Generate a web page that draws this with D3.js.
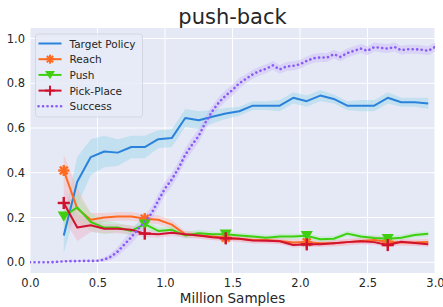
<!DOCTYPE html>
<html>
<head>
<meta charset="utf-8">
<script src="https://cdn.jsdelivr.net/npm/d3@7"></script>
<style>
  body { margin: 0; background: #fff; }
  text { font-family: "DejaVu Sans", sans-serif; fill: #262626; }
</style>
</head>
<body>
<div id="chart"></div>
<script>
// Sample positions (million samples)
const taskSteps = [0.25, 0.35, 0.45, 0.55, 0.65, 0.75, 0.85, 0.95, 1.05, 1.15, 1.25, 1.35, 1.45, 1.55,
    1.65, 1.75, 1.85, 1.95, 2.05, 2.15, 2.25, 2.35, 2.45, 2.55, 2.65, 2.75, 2.85, 2.95];

const targetMean = [0.12, 0.36, 0.47, 0.495, 0.49, 0.515, 0.515, 0.55, 0.555, 0.645, 0.635, 0.65, 0.665, 0.675,
    0.70, 0.70, 0.70, 0.735, 0.72, 0.745, 0.73, 0.70, 0.70, 0.70, 0.735, 0.715, 0.715, 0.71];
const targetStd = [0.08, 0.11, 0.08, 0.07, 0.06, 0.05, 0.05, 0.04, 0.04, 0.04, 0.04, 0.03, 0.025, 0.02,
    0.02, 0.02, 0.025, 0.025, 0.025, 0.025, 0.02, 0.02, 0.025, 0.025, 0.025, 0.02, 0.02, 0.025];

const reachMean = [0.41, 0.24, 0.19, 0.20, 0.205, 0.205, 0.195, 0.19, 0.168, 0.125, 0.12, 0.115, 0.11, 0.105,
    0.10, 0.10, 0.095, 0.088, 0.09, 0.085, 0.085, 0.09, 0.095, 0.10, 0.092, 0.088, 0.088, 0.09];
const reachStd = [0.07, 0.09, 0.03, 0.02, 0.02, 0.02, 0.02, 0.02, 0.02, 0.015, 0.015, 0.015, 0.015, 0.015,
    0.015, 0.015, 0.015, 0.015, 0.015, 0.015, 0.015, 0.015, 0.015, 0.02, 0.015, 0.015, 0.015, 0.015];

const pushMean = [0.205, 0.245, 0.18, 0.155, 0.155, 0.14, 0.17, 0.14, 0.145, 0.12, 0.13, 0.125, 0.125, 0.12,
    0.115, 0.11, 0.115, 0.115, 0.118, 0.103, 0.105, 0.128, 0.115, 0.108, 0.105, 0.11, 0.122, 0.127];
const pushStd = [0.05, 0.06, 0.04, 0.03, 0.02, 0.02, 0.02, 0.015, 0.015, 0.015, 0.015, 0.012, 0.012, 0.012,
    0.012, 0.012, 0.012, 0.012, 0.012, 0.012, 0.012, 0.012, 0.012, 0.012, 0.012, 0.012, 0.012, 0.012];

const pickMean = [0.265, 0.155, 0.165, 0.15, 0.15, 0.145, 0.128, 0.125, 0.132, 0.125, 0.12, 0.112, 0.107, 0.105,
    0.097, 0.096, 0.094, 0.077, 0.08, 0.08, 0.085, 0.09, 0.094, 0.09, 0.077, 0.092, 0.086, 0.08];
const pickStd = [0.07, 0.06, 0.03, 0.02, 0.02, 0.02, 0.015, 0.015, 0.015, 0.015, 0.012, 0.012, 0.012, 0.012,
    0.012, 0.012, 0.012, 0.012, 0.012, 0.012, 0.012, 0.012, 0.012, 0.012, 0.012, 0.012, 0.012, 0.012];

const successSteps = [0.00, 0.05, 0.10, 0.15, 0.20, 0.25, 0.30, 0.35, 0.40, 0.45, 0.50, 0.55, 0.60, 0.65,
    0.70, 0.75, 0.80, 0.85, 0.90, 0.95, 1.00, 1.05, 1.10, 1.15, 1.20, 1.25, 1.30, 1.35, 1.40, 1.45,
    1.50, 1.55, 1.60, 1.65, 1.70, 1.75, 1.80, 1.85, 1.90, 1.95, 2.00, 2.05, 2.10, 2.15, 2.20, 2.25,
    2.30, 2.35, 2.40, 2.45, 2.50, 2.55, 2.60, 2.65, 2.70, 2.75, 2.80, 2.85, 2.90, 2.95, 3.00];
const successMean = [0.000, 0.000, 0.000, 0.000, 0.002, 0.004, 0.005, 0.005, 0.006, 0.006, 0.007, 0.012, 0.025, 0.048,
    0.080, 0.112, 0.148, 0.180, 0.218, 0.275, 0.330, 0.370, 0.420, 0.480, 0.525, 0.565, 0.625, 0.675, 0.715, 0.745,
    0.770, 0.800, 0.820, 0.840, 0.855, 0.865, 0.880, 0.862, 0.875, 0.878, 0.885, 0.900, 0.912, 0.915, 0.915, 0.930,
    0.918, 0.935, 0.945, 0.955, 0.945, 0.962, 0.958, 0.955, 0.962, 0.948, 0.952, 0.952, 0.950, 0.945, 0.962];
const successStd = [0, 0, 0, 0, 0.002, 0.003, 0.003, 0.003, 0.003, 0.003, 0.004, 0.01, 0.015, 0.02,
    0.025, 0.03, 0.03, 0.03, 0.03, 0.03, 0.03, 0.03, 0.03, 0.03, 0.03, 0.03, 0.03, 0.025, 0.025, 0.025,
    0.025, 0.025, 0.02, 0.02, 0.02, 0.02, 0.02, 0.02, 0.02, 0.02, 0.02, 0.02, 0.02, 0.02, 0.02, 0.02,
    0.02, 0.02, 0.02, 0.02, 0.02, 0.02, 0.02, 0.02, 0.02, 0.02, 0.02, 0.02, 0.02, 0.02, 0.02];

const xTicks = [0, 0.5, 1.0, 1.5, 2.0, 2.5, 3.0];
const yTicks = [0, 0.2, 0.4, 0.6, 0.8, 1.0];

const series = [
    { name: 'Target Policy', x: taskSteps, mean: targetMean, std: targetStd, color: '#2a82db', band: '#9ad4ea', marker: null },
    { name: 'Reach', x: taskSteps, mean: reachMean, std: reachStd, color: '#ff6a22', band: '#f7b6b6', marker: 'asterisk' },
    { name: 'Push', x: taskSteps, mean: pushMean, std: pushStd, color: '#3fcf10', band: '#a8e8b0', marker: 'triangle' },
    { name: 'Pick-Place', x: taskSteps, mean: pickMean, std: pickStd, color: '#d0122e', band: '#f0b0c8', marker: 'plus' },
    { name: 'Success', x: successSteps, mean: successMean, std: successStd, color: '#8a5cf6', band: '#c8b8f8', marker: null, dotted: true }
];

const width = 443, height = 307;
const margin = { left: 30, right: 8, top: 28, bottom: 34 };

const svg = d3.select('#chart').append('svg')
    .attr('width', width)
    .attr('height', height);

const x = d3.scaleLinear().domain([0, 3]).range([margin.left, width - margin.right]);
const y = d3.scaleLinear().domain([-0.048, 1.047]).range([height - margin.bottom, margin.top]);

// Plot background
svg.append('rect')
    .attr('x', x(0)).attr('y', y(1.047))
    .attr('width', x(3) - x(0)).attr('height', y(-0.048) - y(1.047))
    .attr('fill', '#e5e9f6');

// Grid
svg.append('g').selectAll('line').data(xTicks).enter().append('line')
    .attr('x1', d => x(d)).attr('x2', d => x(d))
    .attr('y1', y(1.047)).attr('y2', y(-0.048))
    .attr('stroke', '#fff').attr('stroke-width', 1);
svg.append('g').selectAll('line').data(yTicks).enter().append('line')
    .attr('y1', d => y(d)).attr('y2', d => y(d))
    .attr('x1', x(0)).attr('x2', x(3))
    .attr('stroke', '#fff').attr('stroke-width', 1);

// Axes (labels only, like seaborn style)
const xAxis = svg.append('g')
    .attr('transform', `translate(0,${y(-0.048)})`)
    .call(d3.axisBottom(x).tickValues(xTicks).tickFormat(d3.format('.1f')).tickSize(0).tickPadding(6));
const yAxis = svg.append('g')
    .attr('transform', `translate(${x(0)},0)`)
    .call(d3.axisLeft(y).tickValues(yTicks).tickFormat(d3.format('.1f')).tickSize(0).tickPadding(5));
[xAxis, yAxis].forEach(a => {
    a.select('.domain').remove();
    a.selectAll('text').style('font-size', '11.5px').style('font-family', '"DejaVu Sans", sans-serif').attr('fill', '#262626');
});

svg.append('clipPath').attr('id', 'plot-clip').append('rect')
    .attr('x', x(0)).attr('y', y(1.047))
    .attr('width', x(3) - x(0)).attr('height', y(-0.048) - y(1.047));

const plot = svg.append('g').attr('clip-path', 'url(#plot-clip)');

const area = d3.area()
    .x(d => x(d.x))
    .y0(d => y(d.m - d.s))
    .y1(d => y(d.m + d.s));
const line = d3.line()
    .x(d => x(d.x))
    .y(d => y(d.m));

series.forEach(s => {
    s.points = s.x.map((v, i) => ({ x: v, m: s.mean[i], s: s.std[i] }));
});

// Bands first
series.forEach(s => {
    plot.append('path')
        .datum(s.points)
        .attr('d', area)
        .attr('fill', s.band)
        .attr('fill-opacity', 0.45);
});

function drawMarker(g, type, cx, cy, color, size) {
    const m = g.append('g').attr('transform', `translate(${cx},${cy})`);
    if (type === 'triangle') {
        const r = size * 0.55;
        m.append('path')
            .attr('d', `M${-r},${-r * 0.8}L${r},${-r * 0.8}L0,${r * 0.9}Z`)
            .attr('fill', color);
    } else if (type === 'plus') {
        const r = size * 0.55, w = size * 0.22;
        m.append('rect').attr('x', -r).attr('y', -w / 2).attr('width', 2 * r).attr('height', w).attr('fill', color);
        m.append('rect').attr('x', -w / 2).attr('y', -r).attr('width', w).attr('height', 2 * r).attr('fill', color);
    } else if (type === 'asterisk') {
        const r = size * 0.5, w = size * 0.22;
        [0, 45, 90, 135].forEach(a => {
            m.append('rect').attr('x', -r).attr('y', -w / 2).attr('width', 2 * r).attr('height', w)
                .attr('fill', color).attr('transform', `rotate(${a})`);
        });
    }
}

// Lines
series.forEach(s => {
    const p = plot.append('path')
        .datum(s.points)
        .attr('d', line)
        .attr('fill', 'none')
        .attr('stroke', s.color)
        .attr('stroke-linejoin', 'round');
    if (s.dotted) {
        p.attr('stroke-dasharray', '0.1 4.4').attr('stroke-linecap', 'round').attr('stroke-width', 2.6);
    } else {
        p.attr('stroke-width', 2);
    }
    if (s.marker) {
        s.points.forEach((d, i) => {
            if (i % 6 === 0) drawMarker(plot, s.marker, x(d.x), y(d.m), s.color, 11);
        });
    }
});

// Title and axis label
svg.append('text')
    .attr('x', (x(0) + x(3)) / 2).attr('y', 24)
    .attr('text-anchor', 'middle')
    .style('font-size', '21px')
    .text('push-back');
svg.append('text')
    .attr('x', (x(0) + x(3)) / 2).attr('y', 303)
    .attr('text-anchor', 'middle')
    .style('font-size', '13.5px')
    .text('Million Samples');

// Legend
const legend = svg.append('g').attr('transform', 'translate(35.5,34)');
legend.append('rect')
    .attr('width', 107).attr('height', 83).attr('rx', 3)
    .attr('fill', '#e8ebf7').attr('fill-opacity', 0.85)
    .attr('stroke', '#cfd2dc').attr('stroke-width', 0.8);
series.forEach((s, i) => {
    const ly = 9.5 + i * 15.7;
    const l = legend.append('line')
        .attr('x1', 3).attr('x2', 26).attr('y1', ly).attr('y2', ly)
        .attr('stroke', s.color);
    if (s.dotted) {
        l.attr('stroke-dasharray', '0.1 4.4').attr('stroke-linecap', 'round').attr('stroke-width', 2.6);
    } else {
        l.attr('stroke-width', 2);
    }
    if (s.marker) drawMarker(legend, s.marker, 14.5, ly, s.color, 9);
    legend.append('text')
        .attr('x', 34).attr('y', ly + 4)
        .style('font-size', '10.5px')
        .text(s.name);
});
</script>
</body>
</html>
